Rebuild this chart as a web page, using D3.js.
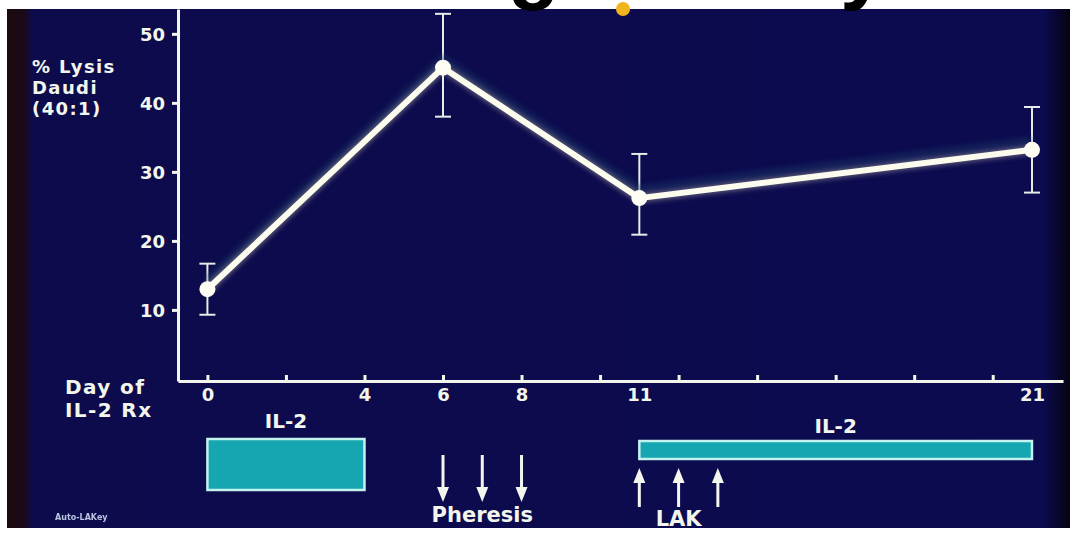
<!DOCTYPE html>
<html>
<head>
<meta charset="utf-8">
<script src="https://cdn.jsdelivr.net/npm/d3@7"></script>
<style>
  body { margin: 0; background: #ffffff; }
  svg { display: block; }
  .lbl { font-family: "DejaVu Sans", sans-serif; font-weight: bold; fill: #f2f6ec; }
</style>
</head>
<body>
<div id="chart"></div>
<script>
// data
const days = [0, 6, 11, 21];
const lysis = [13.0, 45.1, 26.2, 33.2];
const errHigh = [16.7, 52.9, 32.6, 39.4];
const errLow = [9.3, 38.0, 20.9, 27.0];
const yTicks = [10, 20, 30, 40, 50];
const xTickDays = [0, 2, 4, 6, 8, 10, 12, 14, 16, 18, 20];
const xLabelDays = [0, 4, 6, 8, 11, 21];
const il2Courses = [[0, 4], [11, 21]];
const pheresisDays = [6, 7, 8];
const lakDays = [11, 12, 13];

const W = 1075, H = 533;
const svg = d3.select('#chart').append('svg')
  .attr('width', W)
  .attr('height', H);

const defs = svg.append('defs');
defs.append('filter').attr('id', 'glow')
  .attr('x', '-20%').attr('y', '-20%').attr('width', '140%').attr('height', '140%')
  .append('feGaussianBlur').attr('stdDeviation', 2.5);
defs.append('filter').attr('id', 'soft')
  .append('feGaussianBlur').attr('stdDeviation', 0.6);
const edge = defs.append('linearGradient').attr('id', 'edge');
edge.append('stop').attr('offset', '0%').attr('stop-color', '#1c0a10');
edge.append('stop').attr('offset', '1.6%').attr('stop-color', '#1a0a18');
edge.append('stop').attr('offset', '2.4%').attr('stop-color', '#0d0b4c');
edge.append('stop').attr('offset', '97.5%').attr('stop-color', '#0c0b50');
edge.append('stop').attr('offset', '99%').attr('stop-color', '#080628');
edge.append('stop').attr('offset', '100%').attr('stop-color', '#050410');

// slide area
svg.append('rect')
  .attr('x', 7).attr('y', 9)
  .attr('width', 1063).attr('height', 519)
  .attr('fill', 'url(#edge)');

// cut-off title above the slide
svg.append('text')
  .attr('x', 300).attr('y', -7)
  .attr('font-family', 'Liberation Sans, Arial, sans-serif')
  .attr('font-weight', 'bold')
  .attr('font-size', 85)
  .attr('fill', '#000')
  .text('Killing Activity');
svg.append('circle')
  .attr('cx', 623).attr('cy', 9).attr('r', 7)
  .attr('fill', '#f2b41c');

// scales
const x = d3.scaleLinear().domain([-0.749, 21.79]).range([178, 1063]);
const y = d3.scaleLinear().domain([-0.3, 53.6]).range([381, 9]);

// axes
const yAxis = svg.append('g')
  .attr('transform', `translate(${x(-0.749)},0)`)
  .call(d3.axisLeft(y).tickValues(yTicks).tickSize(6).tickPadding(7).tickSizeOuter(0));
yAxis.selectAll('text')
  .attr('class', 'lbl')
  .attr('font-size', 18)
  .attr('dy', '0.36em');

const xAxis = svg.append('g')
  .attr('transform', `translate(0,${y(-0.3)})`)
  .call(d3.axisBottom(x).tickValues(xTickDays).tickSize(-6).tickFormat('').tickSizeOuter(0));

const xLabels = svg.append('g')
  .attr('transform', `translate(0,${y(-0.3)})`)
  .call(d3.axisBottom(x).tickValues(xLabelDays).tickSize(0).tickPadding(7).tickFormat(d3.format('d')));
xLabels.select('.domain').remove();
xLabels.selectAll('text')
  .attr('class', 'lbl')
  .attr('font-size', 18);

svg.selectAll('.domain, .tick line')
  .attr('stroke', '#f4f6ee')
  .attr('stroke-width', 3);

// axis titles
['% Lysis', 'Daudi', '(40:1)'].forEach((t, i) => {
  svg.append('text').attr('class', 'lbl')
    .attr('font-size', 18)
    .attr('letter-spacing', 1.4)
    .attr('x', 32).attr('y', 73 + i * 21)
    .text(t);
});
['Day of', 'IL-2 Rx'].forEach((t, i) => {
  svg.append('text').attr('class', 'lbl')
    .attr('font-size', 20)
    .attr('letter-spacing', 1.4)
    .attr('x', 65).attr('y', 394 + i * 23)
    .text(t);
});

// error bars
const pts = days.map((d, i) => ({ day: d, v: lysis[i], hi: errHigh[i], lo: errLow[i] }));
const err = svg.append('g').attr('stroke', '#e6ece6').attr('stroke-width', 2);
err.selectAll('.bar').data(pts).enter().append('line')
  .attr('x1', d => x(d.day)).attr('x2', d => x(d.day))
  .attr('y1', d => y(d.hi)).attr('y2', d => y(d.lo));
err.selectAll('.capHi').data(pts).enter().append('line')
  .attr('x1', d => x(d.day) - 8).attr('x2', d => x(d.day) + 8)
  .attr('y1', d => y(d.hi)).attr('y2', d => y(d.hi));
err.selectAll('.capLo').data(pts).enter().append('line')
  .attr('x1', d => x(d.day) - 8).attr('x2', d => x(d.day) + 8)
  .attr('y1', d => y(d.lo)).attr('y2', d => y(d.lo));

// line with glow
const line = d3.line().x(d => x(d.day)).y(d => y(d.v));
svg.append('path').datum(pts)
  .attr('d', line)
  .attr('fill', 'none')
  .attr('stroke', '#1f3f6a')
  .attr('stroke-width', 8)
  .attr('opacity', 0.4)
  .attr('transform', 'translate(0,-9)')
  .attr('filter', 'url(#glow)');
svg.append('path').datum(pts)
  .attr('d', line)
  .attr('fill', 'none')
  .attr('stroke', '#fff6c8')
  .attr('stroke-width', 9)
  .attr('opacity', 0.35)
  .attr('filter', 'url(#glow)');
svg.append('path').datum(pts)
  .attr('d', line)
  .attr('fill', 'none')
  .attr('stroke', '#fbfbee')
  .attr('stroke-width', 6)
  .attr('stroke-linejoin', 'round');
svg.selectAll('.pt').data(pts).enter().append('circle')
  .attr('cx', d => x(d.day)).attr('cy', d => y(d.v))
  .attr('r', 8)
  .attr('fill', '#fdfdf4');

// IL-2 treatment courses
const boxY = [439, 441], boxH = [51, 18], il2LabelY = [428, 433];
il2Courses.forEach((c, i) => {
  svg.append('rect')
    .attr('x', x(c[0])).attr('y', boxY[i])
    .attr('width', x(c[1]) - x(c[0])).attr('height', boxH[i])
    .attr('fill', '#15a6b2')
    .attr('stroke', '#c4f2ee')
    .attr('stroke-width', 2.5);
  svg.append('text').attr('class', 'lbl')
    .attr('font-size', 20)
    .attr('text-anchor', 'middle')
    .attr('x', (x(c[0]) + x(c[1])) / 2)
    .attr('y', il2LabelY[i])
    .text('IL-2');
});

// arrows
function arrow(g, cx, yTail, yHead) {
  const dir = yHead > yTail ? 1 : -1;
  g.append('line')
    .attr('x1', cx).attr('x2', cx)
    .attr('y1', yTail).attr('y2', yHead - dir * 12)
    .attr('stroke', '#f4f6ee').attr('stroke-width', 3);
  g.append('path')
    .attr('d', `M${cx - 6},${yHead - dir * 15}L${cx + 6},${yHead - dir * 15}L${cx},${yHead}Z`)
    .attr('fill', '#f4f6ee');
}
const arrows = svg.append('g');
pheresisDays.forEach(d => arrow(arrows, x(d), 455, 502));
lakDays.forEach(d => arrow(arrows, x(d), 507, 468));

svg.append('text').attr('class', 'lbl')
  .attr('font-size', 21)
  .attr('text-anchor', 'middle')
  .attr('x', x(7)).attr('y', 522)
  .text('Pheresis');
svg.append('text').attr('class', 'lbl')
  .attr('font-size', 21)
  .attr('text-anchor', 'middle')
  .attr('x', x(12)).attr('y', 526)
  .text('LAK');

svg.append('text')
  .attr('x', 55).attr('y', 520)
  .attr('font-family', 'DejaVu Sans, sans-serif')
  .attr('font-weight', 'bold')
  .attr('font-size', 8)
  .attr('fill', '#b8c4e0')
  .attr('filter', 'url(#soft)')
  .text('Auto-LAKey');

// bottom border over the slide edge
svg.append('rect')
  .attr('x', 0).attr('y', 528).attr('width', W).attr('height', 5)
  .attr('fill', '#ffffff');
</script>
</body>
</html>
